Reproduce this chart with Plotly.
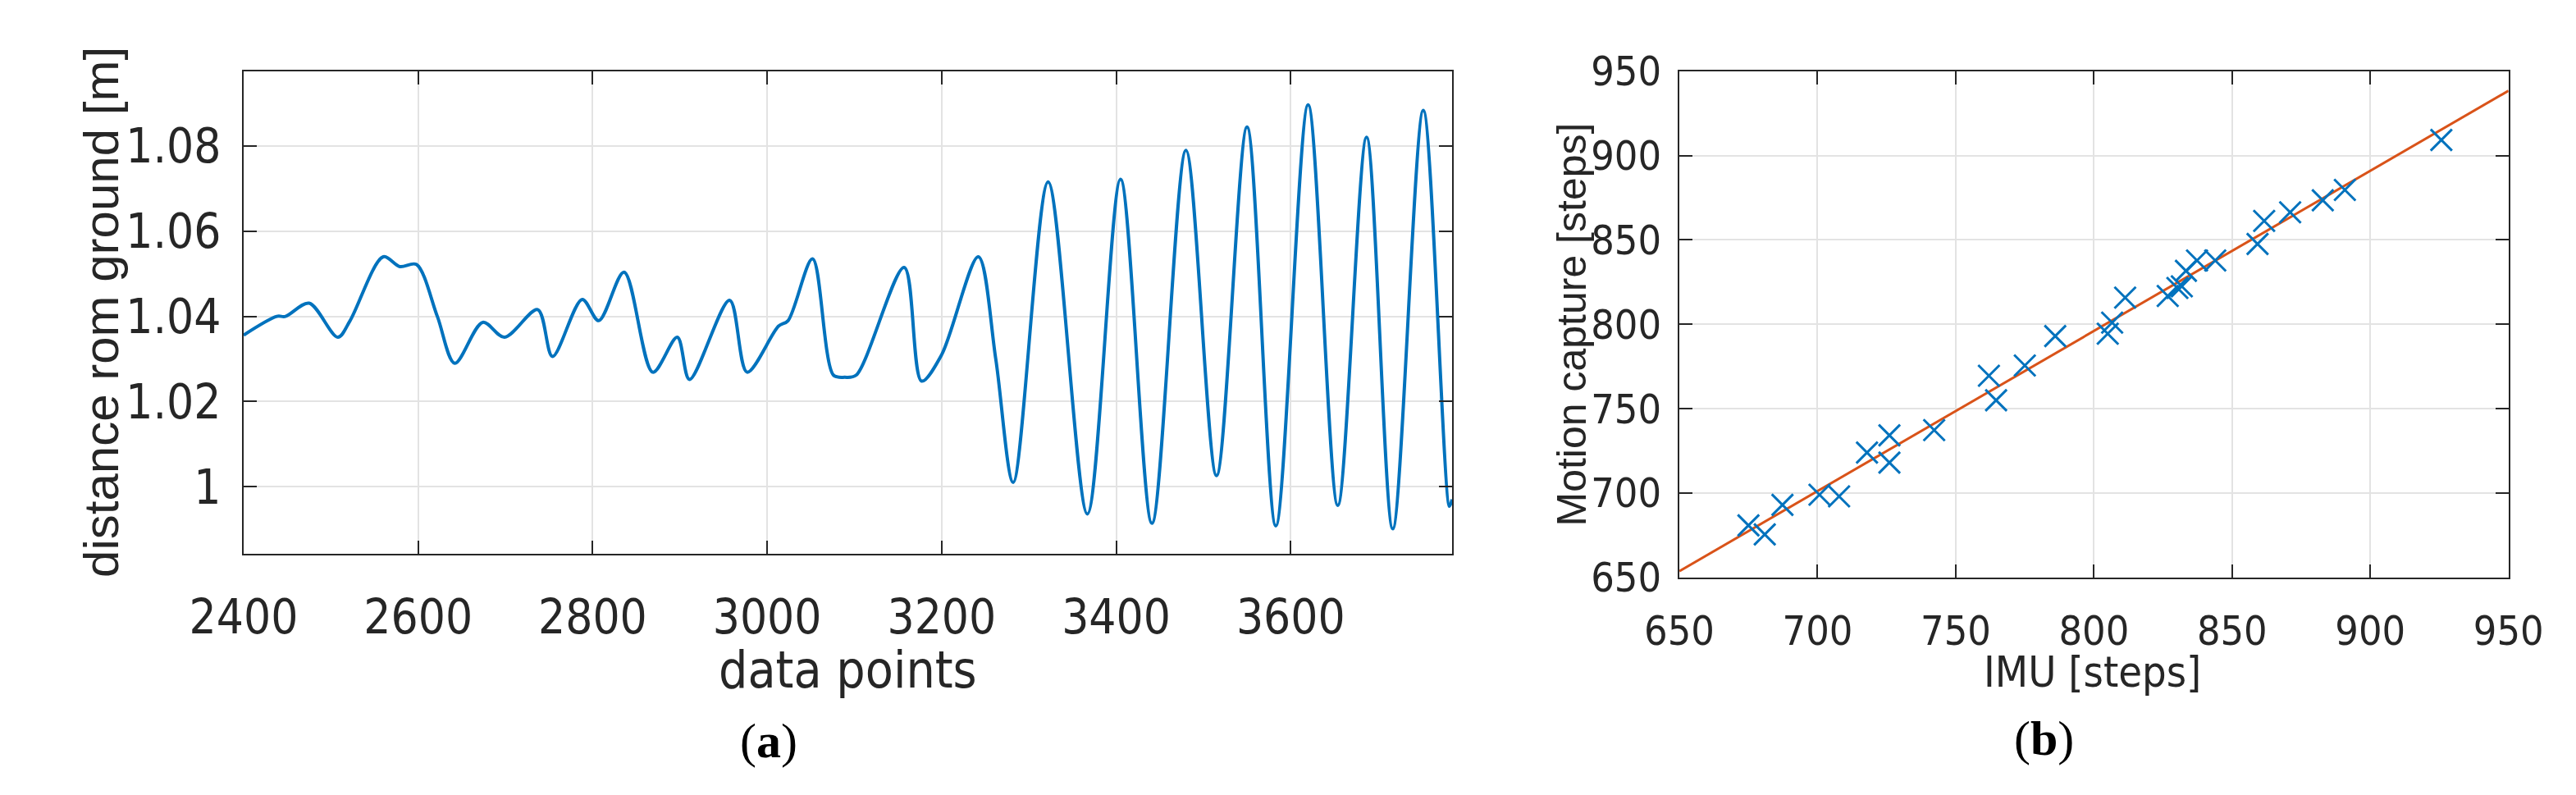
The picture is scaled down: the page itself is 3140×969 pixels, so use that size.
import numpy as np
import plotly.graph_objects as go

# (a) distance from ground, key extremes of the signal
t_pts = [2400, 2438, 2448, 2475, 2508, 2522, 2560, 2579, 2598, 2622, 2642, 2674, 2699, 2737, 2754,
         2788, 2807, 2836, 2869, 2897, 2911, 2957, 2977, 3013, 3024, 3052, 3076, 3089, 3102, 3157,
         3177, 3200, 3242, 3262, 3282, 3322, 3367, 3405, 3441, 3480, 3515, 3550, 3583, 3620,
         3654, 3687, 3717, 3752, 3782, 3785]
d_pts = [1.0356, 1.040, 1.040, 1.0431, 1.0351, 1.039, 1.054, 1.0517, 1.0522, 1.040, 1.029, 1.0386,
         1.0351, 1.0416, 1.0306, 1.044, 1.039, 1.0504, 1.0269, 1.0351, 1.0252, 1.0438, 1.0269,
         1.0377, 1.039, 1.0535, 1.0262, 1.0257, 1.0262, 1.0515, 1.0248, 1.031, 1.054, 1.030,
         1.001, 1.0716, 0.9936, 1.0722, 0.9914, 1.079, 1.0026, 1.0845, 0.9908, 1.0897,
         0.9956, 1.0821, 0.9901, 1.0884, 0.9954, 0.997]

# (b) IMU vs motion capture steps
imu = [675, 680.9, 687.3, 700.7, 707.8, 717.9, 726, 726, 742.2, 762, 764.6, 775, 786, 805, 806.6,
       811.3, 826.7, 830.2, 831.8, 833.3, 837.3, 843.9, 859.2, 861.6, 871, 882.8, 890.8, 925.7]
mocap = [680.8, 675.5, 693, 699, 698, 724, 718, 734.2, 737.3, 769.5, 755, 775.6, 793, 794.4, 801,
         815.8, 816.8, 821.5, 822.5, 831.7, 837.8, 837.8, 847.6, 861.3, 866.4, 873.5, 879.6, 909.2]

fit = np.polyfit(imu, mocap, 1)
fx = np.array([650, 950])
fy = np.polyval(fit, fx)

W, H = 3140, 969
fig = go.Figure()
fig.add_trace(go.Scatter(x=t_pts, y=d_pts, mode="lines", line=dict(color="#0072BD", width=4, shape="spline", smoothing=0.9),
                         xaxis="x", yaxis="y", showlegend=False))
fig.add_trace(go.Scatter(x=fx, y=fy, mode="lines", line=dict(color="#D95319", width=3),
                         xaxis="x2", yaxis="y2", showlegend=False))
fig.add_trace(go.Scatter(x=imu, y=mocap, mode="markers",
                         marker=dict(symbol="x-thin", size=26, line=dict(color="#0072BD", width=3)),
                         xaxis="x2", yaxis="y2", showlegend=False))

narrow = "Liberation Sans Narrow, DejaVu Sans Condensed, Liberation Sans, Arial"
ax = dict(showline=True, linecolor="#262626", linewidth=2, mirror="ticks", ticks="inside", ticklen=16,
          tickwidth=2, tickcolor="#262626", showgrid=True, gridcolor="#e3e3e3", gridwidth=2,
          zeroline=False, tickfont=dict(family=narrow, size=58, color="#262626"))

fig.update_layout(
    width=W, height=H, margin=dict(l=0, r=0, t=0, b=0), paper_bgcolor="white", plot_bgcolor="white",
    xaxis=dict(ax, domain=[231/W, 1757/W], range=[2400, 3785], tickvals=[2400, 2600, 2800, 3000, 3200, 3400, 3600],
               ticklabelstandoff=26, anchor="y"),
    yaxis=dict(ax, domain=[1-679/H, 1-53/H], range=[0.9843, 1.0976], tickvals=[1, 1.02, 1.04, 1.06, 1.08],
               ticktext=["1", "1.02", "1.04", "1.06", "1.08"], ticklabelstandoff=14, anchor="x"),
    xaxis2=dict(ax, domain=[2044/W, 3091/W], range=[650, 950], tickvals=list(range(650, 951, 50)),
                tickfont=dict(family=narrow, size=50, color="#262626"), ticklabelstandoff=20, anchor="y2"),
    yaxis2=dict(ax, domain=[1-710/H, 1-53/H], range=[650, 950], tickvals=list(range(650, 951, 50)),
                tickfont=dict(family=narrow, size=50, color="#262626"), ticklabelstandoff=10, anchor="x2"),
)

ann = [
    dict(x=52/W, y=1-366/H, text="distance rom ground [m]", textangle=-90, font=dict(family="Liberation Sans, Arial", size=60, color="#262626")),
    dict(x=994/W, y=1-830/H, text="data points", font=dict(family=narrow, size=62, color="#262626")),
    dict(x=894/W, y=1-922/H, text="(<b>a</b>)", font=dict(family="Liberation Serif", size=60, color="black")),
    dict(x=1908/W, y=1-382/H, text="Motion capture [steps]", textangle=-90, font=dict(family="Liberation Sans, Arial", size=50, color="#262626")),
    dict(x=2566/W, y=1-833/H, text="IMU [steps]", font=dict(family=narrow, size=52, color="#262626")),
    dict(x=2504/W, y=1-919/H, text="(<b>b</b>)", font=dict(family="Liberation Serif", size=60, color="black")),
]
fig.update_layout(annotations=[dict(a, xref="paper", yref="paper", showarrow=False, xanchor="center", yanchor="middle") for a in ann])

fig.write_html("out.html")
